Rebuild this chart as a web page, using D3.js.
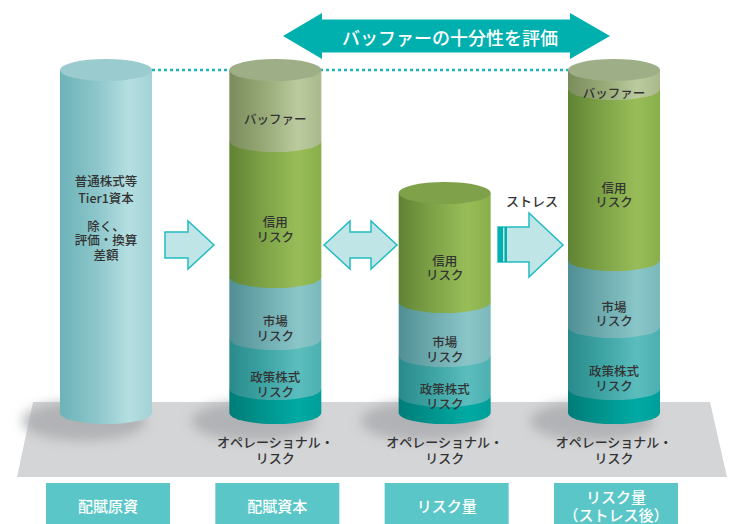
<!DOCTYPE html>
<html>
<head>
<meta charset="utf-8">
<script src="https://cdn.jsdelivr.net/npm/d3@7"></script>
<style>
  html, body { margin: 0; padding: 0; background: #fff; }
  svg { display: block; }
  text { font-family: "Noto Sans CJK JP", "Noto Sans", sans-serif; }
</style>
</head>
<body>
<svg id="chart" width="745" height="524"></svg>
<script>
"use strict";

// columns (bottom boxes)
const columns = ['配賦原資', '配賦資本', 'リスク量', 'リスク量（ストレス後）'];
const columnLines = [['配賦原資'], ['配賦資本'], ['リスク量'], ['リスク量', '（ストレス後）']];

// stacked segments, bottom to top
const segmentKeys = ['op', 'policy', 'market', 'credit', 'buffer'];
const segmentLabels = {
  op: ['オペレーショナル・', 'リスク'],
  policy: ['政策株式', 'リスク'],
  market: ['市場', 'リスク'],
  credit: ['信用', 'リスク'],
  buffer: ['バッファー']
};
const capitalValues = [343];
const capitalLines = ['普通株式等', 'Tier1資本', '', '除く、', '評価・換算', '差額'];
const allocatedValues = [24, 50, 62, 136, 71];
const riskValues = [17, 40, 54, 109, 0];
const stressValues = [24, 62, 67, 171, 19];

const svg = d3.select('#chart');
const defs = svg.append('defs');

const x = d3.scalePoint().domain(columns).range([106, 614]);
const y = d3.scaleLinear().domain([0, 343]).range([413, 70]);
const rx = 46, ry = 11;

// gradient palettes [left, mid, light, right], top cap
const palettes = {
  capital: { stops: ['#6cb3b8', '#8cc6ca', '#b5dfe1', '#a2d2d5'], top: '#9acbce' },
  buffer: { stops: ['#7b8c5c', '#98ab78', '#bccb9f', '#aab98a'], top: '#9eae86' },
  credit: { stops: ['#5f8333', '#80a548', '#98bd58', '#88af4b'], top: '#7fa14a' },
  market: { stops: ['#4f8f94', '#70adb1', '#8ac6c8', '#79b8bb'], top: '#78b4b7' },
  policy: { stops: ['#2a8a8b', '#3fa5a5', '#5cbdbd', '#4cb0b0'], top: '#45a8a8' },
  op: { stops: ['#007c78', '#00968f', '#00aaa4', '#009e98'], top: '#009790' }
};

Object.keys(palettes).forEach((k) => {
  const g = defs.append('linearGradient').attr('id', 'g-' + k)
    .attr('x1', 0).attr('x2', 1).attr('y1', 0).attr('y2', 0);
  [0, 0.4, 0.75, 1].forEach((o, i) => {
    g.append('stop').attr('offset', o).attr('stop-color', palettes[k].stops[i]);
  });
});

defs.append('filter').attr('id', 'blur')
  .attr('x', '-50%').attr('y', '-50%').attr('width', '200%').attr('height', '200%')
  .append('feGaussianBlur').attr('stdDeviation', 6);

// platform
svg.append('path')
  .attr('d', d3.line()([[33, 402], [710, 402], [727, 477], [17, 477]]) + 'Z')
  .attr('fill', '#d4d5d7');

// shadows
columns.forEach((c) => {
  svg.append('ellipse')
    .attr('cx', x(c) - 22).attr('cy', y(0) + 8)
    .attr('rx', 62).attr('ry', 20)
    .attr('fill', '#a9aaad').attr('opacity', 0.8)
    .attr('filter', 'url(#blur)');
});

// dotted line at top level
svg.append('line')
  .attr('x1', x(columns[0]) + rx).attr('x2', x(columns[3]) - rx)
  .attr('y1', y(343)).attr('y2', y(343))
  .attr('stroke', '#22b3b6').attr('stroke-width', 2.5)
  .attr('stroke-dasharray', '3,3');

function drawCylinder(cx, segs) {
  const g = svg.append('g');
  let acc = 0;
  const built = [];
  segs.forEach((s) => {
    if (!s.value) return;
    built.push({ key: s.key, y0: y(acc), y1: y(acc + s.value) });
    acc += s.value;
  });
  built.forEach((b) => {
    g.append('path')
      .attr('d', `M${cx - rx},${b.y1} L${cx - rx},${b.y0} A${rx},${ry} 0 0 0 ${cx + rx},${b.y0} L${cx + rx},${b.y1} Z`)
      .attr('fill', `url(#g-${b.key})`);
  });
  const top = built[built.length - 1];
  g.append('ellipse').attr('cx', cx).attr('cy', top.y1).attr('rx', rx).attr('ry', ry)
    .attr('fill', palettes[top.key].top);
  return built;
}

function drawLines(cx, cy, lines, opts) {
  const lh = opts.lh || 14.5;
  const t = svg.append('text')
    .attr('x', cx).attr('text-anchor', 'middle')
    .attr('font-size', opts.size || 12.5).attr('font-weight', opts.weight || 500)
    .attr('fill', opts.fill || '#333');
  lines.forEach((l, i) => {
    t.append('tspan').attr('x', cx)
      .attr('y', cy + (i - (lines.length - 1) / 2) * lh)
      .attr('dominant-baseline', 'central')
      .text(l);
  });
}

// column 1
const c0 = x(columns[0]);
drawCylinder(c0, [{ key: 'capital', value: capitalValues[0] }]);
drawLines(c0, 188.5, capitalLines.slice(0, 2), { lh: 17 });
drawLines(c0, 239.5, capitalLines.slice(3), { lh: 14.5 });

// stacked columns
[[1, allocatedValues], [2, riskValues], [3, stressValues]].forEach(([ci, vals]) => {
  const cx = x(columns[ci]);
  const built = drawCylinder(cx, segmentKeys.map((k, i) => ({ key: k, value: vals[i] })));
  built.forEach((b) => {
    const lines = segmentLabels[b.key];
    if (b.key === 'op') {
      drawLines(cx, y(0) + 36, lines, { lh: 16, size: 13 });
      return;
    }
    const topVis = b.y1 + ry;
    const botVis = b.y0 + ry;
    const mid = (topVis + botVis) / 2 + (b.key === 'buffer' ? 2 : 9);
    drawLines(cx, mid, lines, {});
  });
});

// top double arrow
const ta = { l: 283, r: 610, lb: 322, rb: 570, cy: 36, hh: 23, bh: 16.5 };
svg.append('path')
  .attr('d', d3.line()([
    [ta.l, ta.cy], [ta.lb, ta.cy - ta.hh], [ta.lb, ta.cy - ta.bh], [ta.rb, ta.cy - ta.bh],
    [ta.rb, ta.cy - ta.hh], [ta.r, ta.cy], [ta.rb, ta.cy + ta.hh], [ta.rb, ta.cy + ta.bh],
    [ta.lb, ta.cy + ta.bh], [ta.lb, ta.cy + ta.hh]
  ]) + 'Z')
  .attr('fill', '#00b0af');
drawLines(450, 37, ['バッファーの十分性を評価'], { size: 18, fill: '#fff' });

// light arrows
const arrowFill = '#c0e5e7', arrowStroke = '#22bcc2';
function arrowPath(pts) {
  svg.append('path').attr('d', d3.line()(pts) + 'Z')
    .attr('fill', arrowFill).attr('stroke', arrowStroke).attr('stroke-width', 1.5)
    .attr('stroke-linejoin', 'miter');
}
arrowPath([[165, 232], [188, 232], [188, 221], [214, 245], [188, 269], [188, 258], [165, 258]]);
arrowPath([[324, 245], [350, 221], [350, 232], [371, 232], [371, 221], [397, 245],
  [371, 269], [371, 258], [350, 258], [350, 269]]);
arrowPath([[498, 227], [529, 227], [529, 213], [563, 245], [529, 277], [529, 262], [498, 262]]);
svg.append('rect').attr('x', 498).attr('y', 227).attr('width', 5).attr('height', 35).attr('fill', '#00b0af');
svg.append('rect').attr('x', 504.5).attr('y', 227).attr('width', 2.5).attr('height', 35).attr('fill', '#00b0af');
drawLines(532, 200, ['ストレス'], { size: 13 });

// bottom boxes
columns.forEach((c, i) => {
  const cx = x(c) + 2;
  svg.append('rect').attr('x', cx - 62).attr('y', 483).attr('width', 124).attr('height', 45)
    .attr('fill', '#5bc6c7');
  drawLines(cx, 505, columnLines[i], { size: 15, fill: '#fff', lh: 18 });
});
</script>
</body>
</html>
